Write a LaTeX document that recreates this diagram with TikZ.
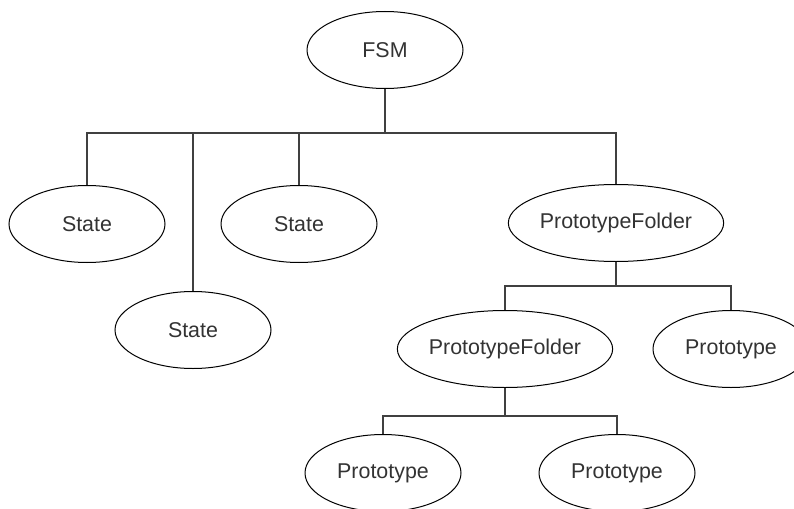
\documentclass[tikz,border=0pt]{standalone}
\usepackage{fontspec}
\setmainfont{Liberation Sans}
\usetikzlibrary{shapes.geometric}
\definecolor{edge}{HTML}{404040}
\definecolor{ink}{HTML}{333333}
\tikzset{
  elem/.style={ellipse, draw=black, line width=1pt, inner sep=0pt,
    minimum height=77pt, text=ink, font=\fontsize{21.4}{25}\selectfont},
  small/.style={elem, minimum width=156pt},
  wide/.style={elem, minimum width=213pt},
  link/.style={draw=edge, line width=1.4pt}
}
\begin{document}
\begin{tikzpicture}[x=1pt,y=-1pt]
\useasboundingbox[fill=white] (0,0) rectangle (794,508);
\clip (0,0) rectangle (794,508);

% tree nodes
\node[small] (fsm) at (385,50) {FSM};
\node[small] (s1) at (87,224) {State};
\node[small] (s2) at (193,330) {State};
\node[small] (s3) at (299,224) {State};
\node[wide] (pf1) at (616,223) {PrototypeFolder};
\node[wide] (pf2) at (505,349) {PrototypeFolder};
\node[small] (p1) at (731,349) {Prototype};
\node[small] (p2) at (383,473) {Prototype};
\node[small] (p3) at (617,473) {Prototype};

% levels of the horizontal bars
\coordinate (bar1) at (0,133);
\coordinate (bar2) at (0,286);
\coordinate (bar3) at (0,416);

% connectors from each parent to its children
\foreach \c in {s1,s2,s3,pf1}
  \draw[link] (fsm.south) -- (fsm.south |- bar1) -| (\c.north);
\foreach \c in {pf2,p1}
  \draw[link] (pf1.south) -- (pf1.south |- bar2) -| (\c.north);
\foreach \c in {p2,p3}
  \draw[link] (pf2.south) -- (pf2.south |- bar3) -| (\c.north);
\end{tikzpicture}
\end{document}
